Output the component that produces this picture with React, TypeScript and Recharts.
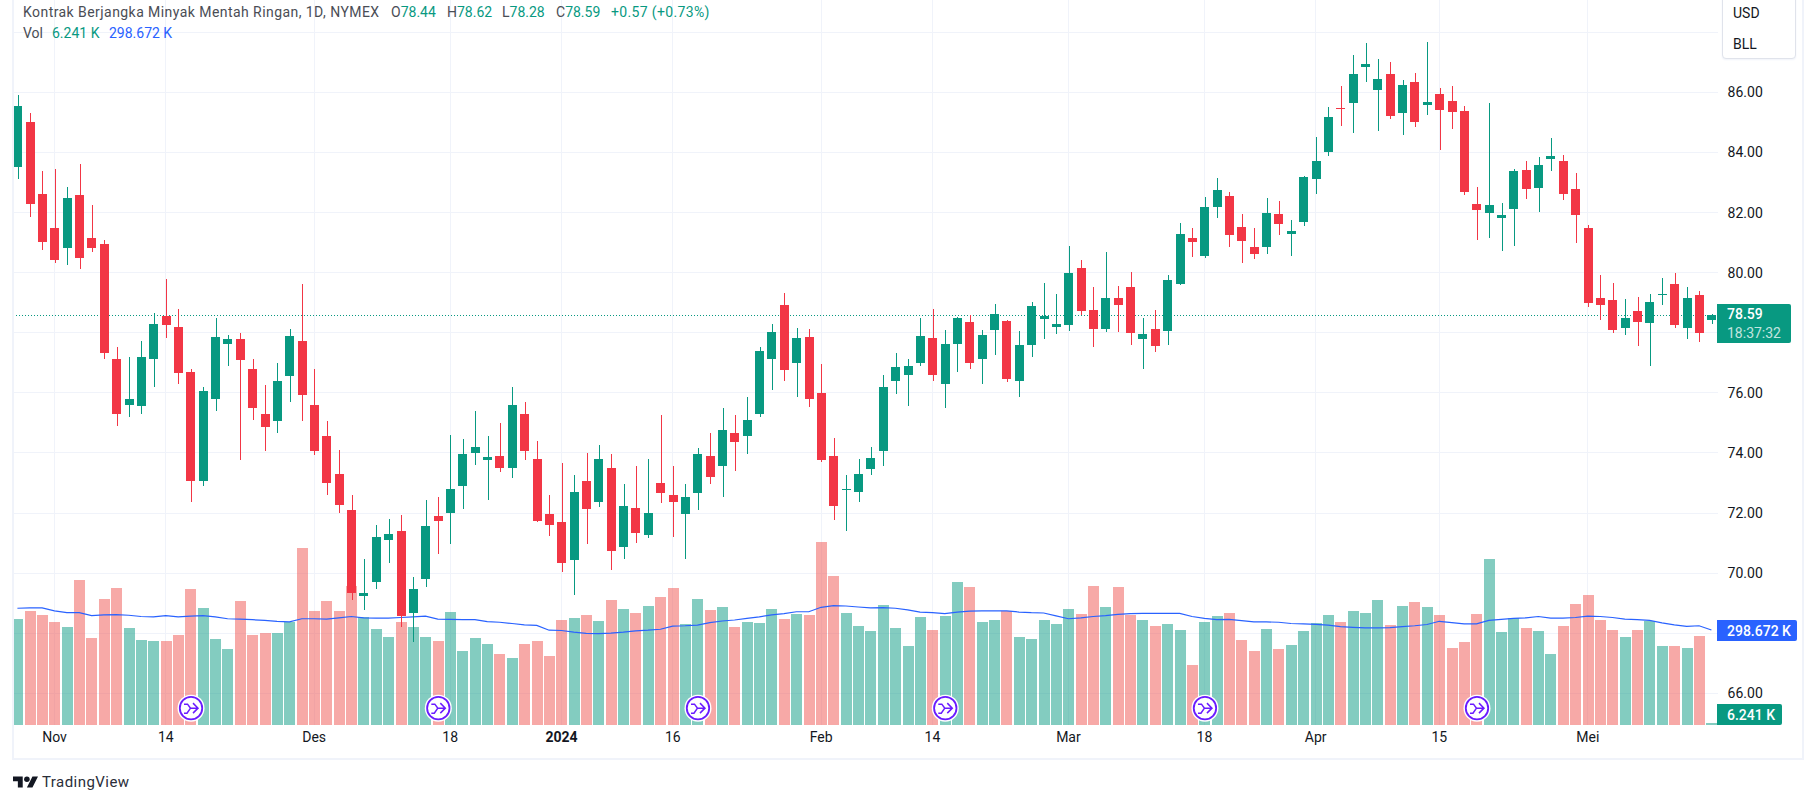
import React from "react";
import { ComposedChart, Bar, Line, XAxis, YAxis, CartesianGrid, ReferenceLine, ReferenceDot } from "recharts";

const opens = [83.52,85.01,82.61,81.48,80.81,82.58,81.14,80.95,77.11,75.61,75.55,77.11,78.55,78.18,76.71,73.08,75.78,77.61,77.78,76.78,75.31,75.05,76.55,77.74,75.58,74.58,73.31,72.11,69.25,69.71,71.11,71.41,68.68,69.81,71.91,72.01,72.91,74.01,73.78,73.91,73.51,75.31,73.81,71.98,71.71,70.45,73.05,72.38,73.51,70.88,72.18,71.28,73.01,72.61,71.98,72.68,73.91,73.58,74.68,74.55,75.28,77.11,78.91,76.98,77.85,75.98,73.91,72.77,72.71,73.48,74.05,76.38,76.58,77.01,77.81,76.31,77.61,78.35,77.11,78.08,78.38,76.38,77.58,78.45,78.18,78.25,80.15,78.75,78.11,79.15,79.51,77.78,78.11,78.05,79.61,81.15,80.55,82.18,82.55,81.51,80.85,80.85,81.95,81.28,81.68,83.11,84.01,85.48,85.65,86.85,86.08,86.61,85.31,86.35,85.58,85.95,85.71,85.38,82.28,81.98,81.81,82.11,83.41,82.81,83.78,83.71,82.78,81.48,79.15,79.08,78.15,78.71,78.31,79.24,79.61,78.15,79.25,78.44];
const highs = [85.91,85.31,83.38,83.45,82.85,83.61,82.25,81.08,77.54,77.18,77.74,78.65,79.78,78.78,76.81,76.18,78.48,77.91,77.98,77.11,76.25,77.01,78.11,79.61,76.78,75.05,74.11,72.61,70.48,71.61,71.81,71.95,69.88,72.45,72.55,74.61,74.45,75.38,74.58,74.98,76.18,75.68,74.41,72.61,73.65,73.25,74.01,74.25,73.95,72.95,73.58,73.81,75.25,73.55,72.95,74.18,74.65,75.48,75.25,75.85,77.51,78.28,79.31,78.15,78.11,76.95,74.51,73.28,73.81,74.21,76.58,77.31,77.11,78.48,78.78,78.08,78.51,78.58,78.08,78.95,78.41,78.05,79.01,79.65,79.28,80.88,80.41,79.51,80.68,79.55,80.01,78.48,78.75,79.91,81.65,81.48,82.51,83.15,82.68,81.95,81.48,82.48,82.38,81.75,83.21,84.51,85.51,86.21,87.25,87.65,87.11,87.01,86.41,86.65,87.68,86.15,86.21,85.55,82.85,85.65,82.31,83.45,83.71,83.85,84.48,83.91,83.31,81.58,79.91,79.65,79.11,79.18,79.28,79.81,79.98,79.51,79.38,78.62];
const lows = [83.11,81.84,80.74,80.31,80.25,80.11,80.68,77.11,74.91,75.21,75.31,76.21,77.81,76.31,72.38,72.91,75.41,76.91,73.78,75.08,74.05,74.65,75.68,75.05,73.94,72.61,72.01,69.11,68.78,69.48,70.35,68.21,67.71,69.55,70.65,70.98,72.15,73.61,72.45,73.38,73.15,73.78,71.71,71.25,70.05,69.28,70.98,72.21,70.11,70.48,71.01,71.18,72.35,71.21,70.48,72.11,72.98,72.55,73.41,73.95,75.18,76.08,76.41,75.85,75.52,73.71,71.78,71.41,72.38,73.25,73.55,75.95,75.55,76.88,76.38,75.51,76.68,76.81,76.31,77.25,76.35,75.85,77.18,77.78,77.95,78.05,78.58,77.51,78.01,78.01,77.58,76.78,77.35,77.58,79.58,80.51,80.5,81.81,80.85,80.31,80.45,80.61,81.25,80.55,81.55,82.61,83.88,84.88,84.65,86.35,84.71,85.11,84.58,84.85,85.25,84.08,84.78,82.58,81.08,81.15,80.71,80.88,82.45,82.01,83.38,82.41,80.98,78.85,78.41,77.98,77.91,77.55,76.91,78.91,78.15,77.78,77.68,78.28];
const closes = [85.54,82.28,81.01,80.41,82.48,80.48,80.81,77.34,75.31,75.78,77.18,78.28,78.25,76.65,73.05,76.05,77.85,77.78,77.08,75.51,74.85,76.41,77.88,75.94,74.05,73.01,72.28,69.35,69.35,71.21,71.31,68.58,69.48,71.58,71.75,72.81,73.95,74.21,73.88,73.51,75.58,74.08,71.75,71.61,70.35,72.71,72.15,73.81,70.75,72.25,71.35,72.01,72.65,72.38,72.55,73.95,73.21,74.75,74.35,75.08,77.38,78.01,76.75,77.81,75.81,73.78,72.25,72.79,73.31,73.84,76.21,76.85,76.91,77.88,76.61,77.61,78.48,77.01,77.91,78.61,76.45,77.58,78.88,78.55,78.28,79.98,78.71,78.11,79.15,78.91,77.98,77.95,77.55,79.75,81.28,81.01,82.18,82.75,81.25,81.05,80.61,81.98,81.61,81.38,83.18,83.71,85.18,85.44,86.61,86.95,86.45,85.21,86.25,85.01,85.68,85.41,85.35,82.68,82.08,82.25,81.91,83.38,82.78,83.58,83.88,82.61,81.91,78.98,78.91,78.08,78.48,78.35,79.01,79.28,78.25,79.15,77.98,78.59];
const volumes = [333,358,346,324,308,456,274,396,431,305,267,264,264,283,428,368,270,239,390,283,289,289,324,556,358,390,358,437,340,302,277,324,308,277,264,355,233,274,255,223,211,255,264,217,330,336,346,327,393,365,352,374,402,431,318,396,362,371,308,324,321,365,333,349,346,575,468,352,311,296,377,305,248,340,299,343,450,434,324,330,358,277,270,330,318,365,349,437,371,434,346,330,311,318,299,189,324,343,352,267,233,302,239,252,296,321,346,324,358,352,393,314,374,387,371,346,242,261,349,522,292,336,305,296,223,311,380,409,330,299,277,299,327,248,248,242,280,6.241];
const volumeMA = [367,368,368,359,353,353,344,346,347,345,341,340,344,340,342,344,340,334,333,331,329,326,324,334,334,333,337,341,337,336,336,338,340,342,333,332,331,331,325,323,319,315,313,298,297,292,288,287,289,292,296,298,301,311,312,314,322,327,330,335,340,346,350,356,356,370,375,374,371,368,369,367,362,355,353,350,355,358,359,359,359,355,353,352,343,334,337,341,344,348,350,351,351,351,351,341,335,331,332,328,324,324,323,319,318,316,314,309,307,305,305,306,309,312,316,326,322,318,318,329,332,335,337,341,336,336,338,342,341,338,333,331,329,321,315,310,312,298.672];
const tickIndexes = [3,12,24,35,44,53,65,74,85,96,105,115,127];
const tickLabels = ["Nov","14","Des","18","2024","16","Feb","14","Mar","18","Apr","15","Mei"];
const priceTicks = [66,70,72,74,76,80,82,84,86];
const priceGrid = [66,68,70,72,74,76,78,80,82,84,86,88];
const rolloverIndexes = [14,34,55,75,96,118];

const rows = opens.map((o, i) => ({
  idx: i, open: o, high: highs[i], low: lows[i], close: closes[i],
  range: [lows[i], highs[i]], vol: volumes[i], ma: volumeMA[i],
}));

const UP = "#089981";
const DOWN = "#F23645";
const VOL_DOWN = "#EF5350";
const FONT = "Roboto, sans-serif";
const TEXT = "#131722";

function Candle(props: any) {
  const { x, y, width, height, payload } = props;
  const { open, high, low, close } = payload;
  const color = close >= open ? UP : DOWN;
  const k = height / (high - low);
  const cx = x + width / 2;
  const top = y + (high - Math.max(open, close)) * k;
  const h = Math.max(Math.abs(open - close) * k, 1);
  return (
    <g>
      <rect x={Math.round(cx) - 0.5} y={y} width={1} height={height} fill={color} shapeRendering="crispEdges" />
      <rect x={cx - 4.5} y={top} width={9} height={h} fill={color} shapeRendering="crispEdges" />
    </g>
  );
}

function VolBar(props: any) {
  const { x, y, width, height, payload } = props;
  const fill = payload.close >= payload.open ? UP : VOL_DOWN;
  return <rect x={x} y={y} width={width} height={height} fill={fill} fillOpacity={0.5} shapeRendering="crispEdges" />;
}

function Rollover(props: any) {
  const { cx, cy } = props;
  return (
    <g transform={`translate(${cx + 0.5},${cy})`}>
      <circle r={13.5} fill="#fff" />
      <circle r={11.2} fill="#fff" stroke="#6A1BFF" strokeWidth={1.8} />
      <path d="M-7 -4H-3.5L-0.5 0H7M2 -5L7 0L2 5M-7 5H-4L-0.5 0" fill="none" stroke="#6A1BFF" strokeWidth={1.5} />
    </g>
  );
}

function XTick(props: any) {
  const { x, y, payload } = props;
  const label = tickLabels[tickIndexes.indexOf(payload.value)];
  return (
    <text x={x} y={y} dy={5} textAnchor="middle" fontFamily={FONT} fontSize={14} fill={TEXT} fontWeight={label === "2024" ? 700 : 400}>
      {label}
    </text>
  );
}

const abs = (left: number, top: number, extra: any = {}) => ({
  position: "absolute" as const, left, top, fontFamily: FONT, fontSize: 14, lineHeight: "18px", whiteSpace: "nowrap" as const, ...extra,
});

export default function App() {
  return (
    <div style={{ position: "absolute", left: 0, top: 0, width: 1815, height: 804, background: "#fff", overflow: "hidden" }}>
      <ComposedChart
        width={1815}
        height={804}
        data={rows}
        margin={{ top: 0, right: 0, bottom: 0, left: 11.22 }}
      >
        <XAxis dataKey="idx" type="category" ticks={tickIndexes} interval={0} tick={<XTick />} tickLine={false} axisLine={false} tickSize={0} tickMargin={12} height={79} />
        <XAxis xAxisId="volX" dataKey="idx" type="category" hide />
        <YAxis yAxisId="price" orientation="right" domain={[64.945, 89.075]} allowDataOverflow ticks={priceTicks} tickFormatter={(v: number) => v.toFixed(2)} tick={{ fontFamily: FONT, fontSize: 14, fill: TEXT, textAnchor: "start" }} tickLine={false} axisLine={false} tickSize={0} tickMargin={10} width={97.4} interval={0} />
        <YAxis yAxisId="vol" hide domain={[0, 2279]} allowDataOverflow />
        <CartesianGrid yAxisId="price" stroke="#F0F3FA" strokeWidth={1} horizontalValues={priceGrid} verticalValues={tickIndexes} shapeRendering="crispEdges" />
        <Bar xAxisId="volX" yAxisId="vol" dataKey="vol" barSize={11} shape={<VolBar />} isAnimationActive={false} zIndex={200} />
        <ReferenceLine yAxisId="price" y={78.59} stroke={UP} strokeWidth={1} strokeDasharray="1 2" shapeRendering="crispEdges" zIndex={250} />
        <Line xAxisId="volX" yAxisId="vol" dataKey="ma" stroke="#2962FF" strokeWidth={1.2} dot={false} type="linear" isAnimationActive={false} zIndex={280} />
        <Bar yAxisId="price" dataKey="range" barSize={9} shape={<Candle />} isAnimationActive={false} zIndex={300} />
        {rolloverIndexes.map((r) => (
          <ReferenceDot key={"r" + r} yAxisId="vol" x={r} y={53} r={13} shape={<Rollover />} />
        ))}
      </ComposedChart>

      {/* pane frame */}
      <div style={{ position: "absolute", left: 0, top: 0, width: 12, height: 760, background: "#fff" }} />
      <div style={{ position: "absolute", left: 12, top: 0, width: 1788, height: 758, borderLeft: "2px solid #F0F3FA", borderRight: "2px solid #F0F3FA", borderBottom: "2px solid #F0F3FA" }} />

      {/* legend */}
      <div style={abs(23, 3, { color: "#4A4D55", letterSpacing: 0.44 })}>Kontrak Berjangka Minyak Mentah Ringan, 1D, NYMEX</div>
      <div style={abs(391, 3, { color: "#4A4D55" })}>O<span style={{ color: UP }}>78.44</span></div>
      <div style={abs(447, 3, { color: "#4A4D55" })}>H<span style={{ color: UP }}>78.62</span></div>
      <div style={abs(502, 3, { color: "#4A4D55" })}>L<span style={{ color: UP }}>78.28</span></div>
      <div style={abs(556, 3, { color: "#4A4D55" })}>C<span style={{ color: UP }}>78.59</span></div>
      <div style={abs(611, 3, { color: UP, letterSpacing: 0.35 })}>+0.57 (+0.73%)</div>
      <div style={abs(23, 24, { color: "#4A4D55" })}>Vol</div>
      <div style={abs(52, 24, { color: UP })}>6.241 K</div>
      <div style={abs(109, 24, { color: "#2962FF" })}>298.672 K</div>

      {/* currency box */}
      <div style={{ position: "absolute", left: 1722, top: -6, width: 72, height: 63, background: "#fff", border: "1px solid #E0E3EB", borderRadius: 4, boxShadow: "0 1px 2px #F0F3FA" }} />
      <div style={abs(1733, 4, { color: TEXT })}>USD</div>
      <div style={abs(1733, 35, { color: TEXT })}>BLL</div>

      {/* price labels */}
      <div style={{ position: "absolute", left: 1717, top: 304, width: 74, height: 39, background: UP, borderRadius: "0 2px 2px 0" }} />
      <div style={abs(1727, 305, { color: "#fff", fontWeight: 500 })}>78.59</div>
      <div style={abs(1727, 324, { color: "#fff", opacity: 0.75 })}>18:37:32</div>
      <div style={{ position: "absolute", left: 1717, top: 620, width: 80, height: 21, background: "#2962FF", borderRadius: "0 2px 2px 0" }} />
      <div style={abs(1727, 622, { color: "#fff", fontWeight: 500 })}>298.672 K</div>
      <div style={{ position: "absolute", left: 1717, top: 704, width: 65, height: 21, background: UP, borderRadius: "0 2px 2px 0" }} />
      <div style={abs(1727, 706, { color: "#fff", fontWeight: 500 })}>6.241 K</div>

      {/* footer */}
      <svg style={{ position: "absolute", left: 13, top: 775 }} width="25" height="14" viewBox="0 0 36 20">
        <path d="M14 2H0v7h7v9h7zM28 18h-8l8-16h8z" fill="#131722" />
        <circle cx="20" cy="6" r="4" fill="#131722" />
      </svg>
      <div style={abs(42, 773, { color: "#2A2E39", fontSize: 15, letterSpacing: 0.45 })}>TradingView</div>
    </div>
  );
}
